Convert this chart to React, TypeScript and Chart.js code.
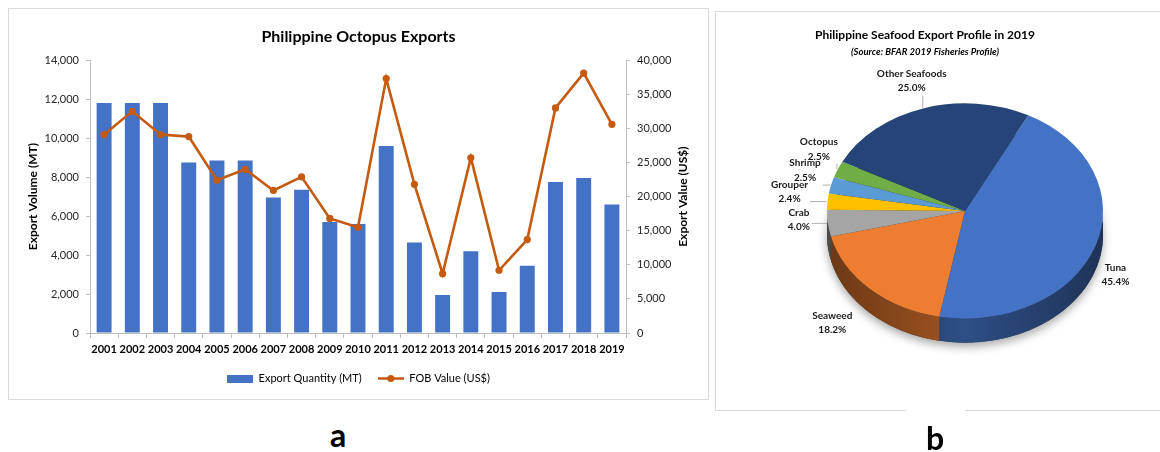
import React, { useEffect, useRef } from "react";
import { Chart, registerables } from "chart.js";

Chart.register(...registerables);

const FONT = "Lato, 'Open Sans', 'DejaVu Sans', sans-serif";
Chart.defaults.font.family = FONT;

// ---------- Data: Philippine Octopus Exports ----------
const years = ["2001", "2002", "2003", "2004", "2005", "2006", "2007", "2008", "2009", "2010", "2011", "2012", "2013", "2014", "2015", "2016", "2017", "2018", "2019"];
const exportQuantityMT = [11800, 11800, 11800, 8750, 8850, 8850, 6950, 7350, 5700, 5600, 9600, 4650, 1950, 4200, 2100, 3450, 7750, 7950, 6600];
const fobValueUSD = [29100, 32500, 29100, 28800, 22400, 24000, 20900, 22900, 16800, 15500, 37300, 21800, 8700, 25700, 9200, 13700, 33000, 38100, 30600];
const volumeAxisTicks = [0, 2000, 4000, 6000, 8000, 10000, 12000, 14000];
const valueAxisTicks = [0, 5000, 10000, 15000, 20000, 25000, 30000, 35000, 40000];

// ---------- Data: Seafood export profile 2019 ----------
const seafoodCategories = ["Tuna", "Seaweed", "Crab", "Grouper", "Shrimp", "Octopus", "Other Seafoods"];
const seafoodShares = [45.4, 18.2, 4.0, 2.4, 2.5, 2.5, 25.0];

// ---------- Styles ----------
const BAR_COLOR = "#4472C4";
const LINE_COLOR = "#C55A11";
const AXIS_COLOR = "#BFBFBF";
const sliceColors = ["#4472C4", "#ED7D31", "#A5A5A5", "#FFC000", "#5B9BD5", "#70AD47", "#264478"];
// label block offsets (px) from the slice's rim point, for layout only
const pieLabelOffsets = [[19, 28], [-37, 33], [-28, -4], [-37, -10], [-25, -15], [-18, -20], [-11, -27]];
const pieLeader = [false, false, true, true, true, true, true];
const TILT = 0.78;
const DEPTH = 24;

const fmt = (v: any) => Number(v).toLocaleString("en-US");

function shade(hex: string, f: number) {
  const n = parseInt(hex.slice(1), 16);
  const r = Math.round(((n >> 16) & 255) * f);
  const g = Math.round(((n >> 8) & 255) * f);
  const b = Math.round((n & 255) * f);
  return `rgb(${r},${g},${b})`;
}

function barSwatch() {
  const c = document.createElement("canvas");
  c.width = 26; c.height = 8;
  const g = c.getContext("2d")!;
  g.fillStyle = BAR_COLOR;
  g.fillRect(0, 0, 26, 8);
  return c;
}
function lineSwatch() {
  const c = document.createElement("canvas");
  c.width = 26; c.height = 9;
  const g = c.getContext("2d")!;
  g.strokeStyle = LINE_COLOR; g.lineWidth = 2.5;
  g.beginPath(); g.moveTo(0, 4.5); g.lineTo(26, 4.5); g.stroke();
  g.fillStyle = LINE_COLOR;
  g.beginPath(); g.arc(13, 4.5, 3.6, 0, Math.PI * 2); g.fill();
  return c;
}

// right-hand axis title, reading bottom-to-top like the left one
const rightAxisTitle = {
  id: "rightAxisTitle",
  afterDraw(chart: any) {
    const ctx = chart.ctx as CanvasRenderingContext2D;
    const a = chart.chartArea;
    ctx.save();
    ctx.translate(chart.width - 25, (a.top + a.bottom) / 2);
    ctx.rotate(-Math.PI / 2);
    ctx.font = `bold 12px ${FONT}`;
    ctx.fillStyle = "#000";
    ctx.textAlign = "center";
    ctx.textBaseline = "middle";
    ctx.fillText("Export Value (US$)", 0, 0);
    ctx.restore();
  },
};

function OctopusChart() {
  const ref = useRef<HTMLCanvasElement>(null);
  useEffect(() => {
    const bar = barSwatch();
    const line = lineSwatch();
    const chart = new Chart(ref.current!, {
      type: "bar",
      data: {
        labels: years,
        datasets: [
          {
            type: "bar",
            label: "Export Quantity (MT)",
            data: exportQuantityMT,
            yAxisID: "y",
            backgroundColor: BAR_COLOR,
            barPercentage: 0.53,
            categoryPercentage: 1,
            order: 1,
          } as any,
          {
            type: "line",
            label: "FOB Value (US$)",
            data: fobValueUSD,
            yAxisID: "y1",
            borderColor: LINE_COLOR,
            backgroundColor: LINE_COLOR,
            pointBackgroundColor: LINE_COLOR,
            pointBorderWidth: 0,
            borderWidth: 2.6,
            pointRadius: 3.6,
            tension: 0,
            order: 0,
          } as any,
        ],
      },
      options: {
        responsive: false,
        animation: false,
        layout: { padding: { left: 0, right: 0, top: 0, bottom: 5 } },
        plugins: {
          title: {
            display: true,
            text: "Philippine Octopus Exports",
            color: "#000",
            font: { family: FONT, size: 16, weight: "bold" },
            padding: { top: 18, bottom: 14 },
          },
          legend: {
            position: "bottom",
            labels: {
              usePointStyle: true,
              pointStyleWidth: 26,
              padding: 16,
              color: "#404040",
              font: { family: FONT, size: 11 },
              generateLabels: () => [
                { text: "Export Quantity (MT)", pointStyle: bar, fillStyle: BAR_COLOR, strokeStyle: "transparent", lineWidth: 0, hidden: false, datasetIndex: 0 } as any,
                { text: "FOB Value (US$)", pointStyle: line, fillStyle: LINE_COLOR, strokeStyle: "transparent", lineWidth: 0, hidden: false, datasetIndex: 1 } as any,
              ],
            },
          },
          tooltip: { enabled: false },
        },
        scales: {
          x: {
            grid: { display: true, drawOnChartArea: false, offset: true, tickLength: 5, color: AXIS_COLOR },
            border: { color: AXIS_COLOR },
            ticks: { color: "#000", font: { family: FONT, size: 11, weight: "bold" }, padding: 5, maxRotation: 0, autoSkip: false },
            afterFit: (s: any) => { s.height = 24; },
          },
          y: {
            position: "left",
            min: volumeAxisTicks[0],
            max: volumeAxisTicks[volumeAxisTicks.length - 1],
            ticks: { stepSize: volumeAxisTicks[1] - volumeAxisTicks[0], color: "#262626", font: { family: FONT, size: 11 }, padding: 7, callback: fmt },
            grid: { drawOnChartArea: false, tickLength: 4, color: AXIS_COLOR },
            border: { color: AXIS_COLOR },
            title: { display: true, text: "Export Volume (MT)", color: "#000", font: { family: FONT, size: 12, weight: "bold" }, padding: { top: 17, bottom: 0 } },
            afterFit: (s: any) => { s.width = 81; },
          },
          y1: {
            position: "right",
            min: valueAxisTicks[0],
            max: valueAxisTicks[valueAxisTicks.length - 1],
            ticks: { stepSize: valueAxisTicks[1] - valueAxisTicks[0], color: "#262626", font: { family: FONT, size: 11 }, padding: 7, callback: fmt },
            grid: { drawOnChartArea: false, tickLength: 4, color: AXIS_COLOR },
            border: { color: AXIS_COLOR },
            title: { display: false },
            afterFit: (s: any) => { s.width = 82; },
          },
        },
      } as any,
      plugins: [rightAxisTitle as any],
    });
    return () => chart.destroy();
  }, []);
  return <canvas ref={ref} width={699} height={390} style={{ position: "absolute", left: 9, top: 9, width: 699, height: 390 }} />;
}

const pie3d = {
  id: "pie3d",
  beforeDatasetsDraw(chart: any) {
    const arcs = chart.getDatasetMeta(0).data;
    if (!arcs.length) return;
    const cx = arcs[0].x, cy = arcs[0].y, r = arcs[0].outerRadius;
    const ctx = chart.ctx as CanvasRenderingContext2D;
    // soft shadow under the disc
    ctx.save();
    ctx.shadowColor = "rgba(0,0,0,0.35)";
    ctx.shadowBlur = 10;
    ctx.shadowOffsetY = 4;
    ctx.fillStyle = "#333";
    ctx.beginPath();
    ctx.ellipse(cx, cy + DEPTH, r, r * TILT, 0, 0, Math.PI * 2);
    ctx.fill();
    ctx.restore();
    // side walls
    const pt = (t: number, dy: number) => [cx + r * Math.cos(t), cy + TILT * r * Math.sin(t) + dy];
    arcs.forEach((arc: any, i: number) => {
      const s = arc.startAngle, e = arc.endAngle;
      for (let k = -1; k <= 2; k++) {
        const a = Math.max(s, k * 2 * Math.PI);
        const b = Math.min(e, k * 2 * Math.PI + Math.PI);
        if (b <= a) continue;
        const grad = ctx.createLinearGradient(cx - r, 0, cx + r, 0);
        grad.addColorStop(0, shade(sliceColors[i], 0.45));
        grad.addColorStop(0.5, shade(sliceColors[i], 0.68));
        grad.addColorStop(1, shade(sliceColors[i], 0.45));
        ctx.fillStyle = grad;
        const n = Math.max(6, Math.ceil((b - a) * 60));
        ctx.beginPath();
        for (let j = 0; j <= n; j++) {
          const [x, y] = pt(a + ((b - a) * j) / n, 0);
          if (j === 0) ctx.moveTo(x, y); else ctx.lineTo(x, y);
        }
        for (let j = n; j >= 0; j--) {
          const [x, y] = pt(a + ((b - a) * j) / n, DEPTH);
          ctx.lineTo(x, y);
        }
        ctx.closePath();
        ctx.fill();
      }
    });
    // squash the disc
    ctx.save();
    ctx.translate(cx, cy);
    ctx.scale(1, TILT);
    ctx.translate(-cx, -cy);
  },
  afterDatasetsDraw(chart: any) {
    const ctx = chart.ctx as CanvasRenderingContext2D;
    ctx.restore();
    const arcs = chart.getDatasetMeta(0).data;
    if (!arcs.length) return;
    const cx = arcs[0].x, cy = arcs[0].y, r = arcs[0].outerRadius;
    ctx.save();
    ctx.font = `bold 10px ${FONT}`;
    ctx.fillStyle = "#1a1a1a";
    ctx.textAlign = "center";
    ctx.textBaseline = "middle";
    arcs.forEach((arc: any, i: number) => {
      const mid = (arc.startAngle + arc.endAngle) / 2;
      const px = cx + (r + 1) * Math.cos(mid);
      const py = cy + TILT * (r + 1) * Math.sin(mid);
      const lx = px + pieLabelOffsets[i][0];
      const ly = py + pieLabelOffsets[i][1];
      const name = seafoodCategories[i];
      const pct = seafoodShares[i].toFixed(1) + "%";
      const w = Math.max(ctx.measureText(name).width, ctx.measureText(pct).width);
      if (pieLeader[i]) {
        const left = lx - w / 2 - 2, right = lx + w / 2 + 2, top = ly - 15, bottom = ly + 15;
        const nx = Math.min(Math.max(px, left), right);
        const ny = Math.min(Math.max(py, top), bottom);
        if (Math.hypot(px - nx, py - ny) > 4) {
          ctx.strokeStyle = "#A6A6A6";
          ctx.lineWidth = 0.9;
          ctx.beginPath();
          ctx.moveTo(px, py);
          ctx.lineTo(nx, ny);
          ctx.stroke();
        }
      }
      ctx.fillText(name, lx, ly - 7);
      ctx.fillText(pct, lx, ly + 7.5);
    });
    ctx.restore();
  },
};

function SeafoodPie() {
  const ref = useRef<HTMLCanvasElement>(null);
  useEffect(() => {
    const chart = new Chart(ref.current!, {
      type: "pie",
      data: {
        labels: seafoodCategories,
        datasets: [{ data: seafoodShares, backgroundColor: sliceColors, borderWidth: 0, hoverOffset: 0 }],
      },
      options: {
        responsive: false,
        animation: false,
        rotation: 27.3,
        layout: { padding: { left: 111, right: 57, top: 61, bottom: 61 } },
        plugins: { legend: { display: false }, tooltip: { enabled: false }, title: { display: false } },
      } as any,
      plugins: [pie3d as any],
    });
    return () => chart.destroy();
  }, []);
  return <canvas ref={ref} width={444} height={398} style={{ position: "absolute", left: 716, top: 12, width: 444, height: 398 }} />;
}

export default function App() {
  return (
    <div style={{ position: "fixed", left: 0, top: 0, width: 1160, height: 452, background: "#fff", overflow: "hidden", fontFamily: FONT }}>
      <div style={{ position: "absolute", left: 8, top: 8, width: 699, height: 390, border: "1px solid #D9D9D9" }} />
      <OctopusChart />
      <div style={{ position: "absolute", left: 715, top: 11, width: 445, height: 398, borderTop: "1px solid #D9D9D9", borderLeft: "1px solid #D9D9D9", borderBottom: "1px solid #D9D9D9" }} />
      <SeafoodPie />
      <div style={{ position: "absolute", left: 906, top: 408, width: 59, height: 4, background: "#fff" }} />
      <div style={{ position: "absolute", left: 775, top: 28, width: 300, textAlign: "center", font: `bold 12px ${FONT}`, lineHeight: "14px", color: "#000" }}>
        Philippine Seafood Export Profile in 2019
      </div>
      <div style={{ position: "absolute", left: 775, top: 46, width: 300, textAlign: "center", font: `italic bold 9.5px ${FONT}`, lineHeight: "12px", color: "#000" }}>
        (Source: BFAR 2019 Fisheries Profile)
      </div>
      <div style={{ position: "absolute", left: 318, top: 419, width: 40, textAlign: "center", font: `bold 32px ${FONT}`, lineHeight: "32px", color: "#000" }}>a</div>
      <div style={{ position: "absolute", left: 915, top: 422, width: 40, textAlign: "center", font: `bold 32px ${FONT}`, lineHeight: "32px", color: "#000" }}>b</div>
    </div>
  );
}
